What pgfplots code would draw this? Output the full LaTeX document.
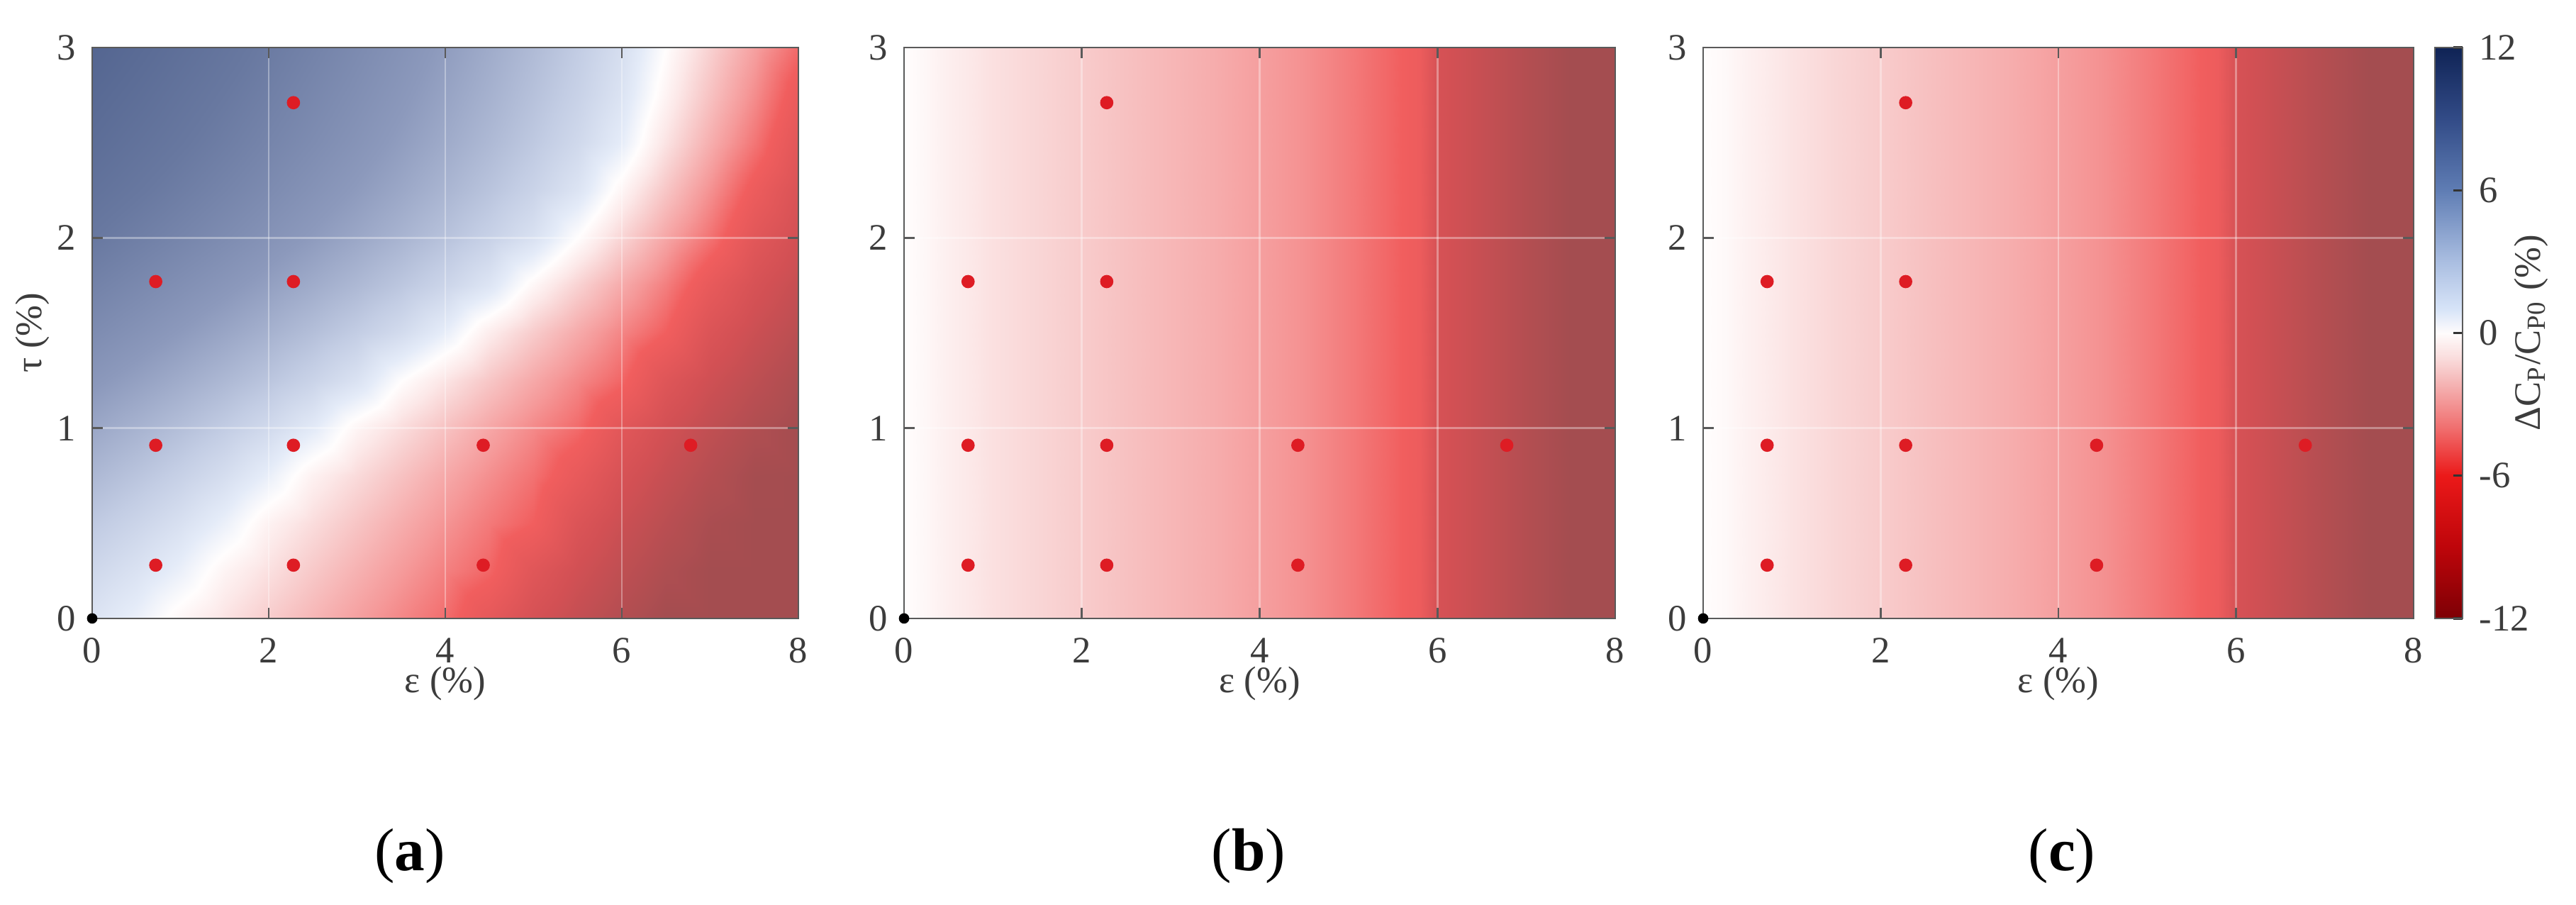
\documentclass[border=0pt]{standalone}
\usepackage{fontspec}
\setmainfont{Liberation Serif}
\usepackage{pgfplots}
\pgfplotsset{compat=1.18}
\usepackage{pgfplotstable}

\definecolor{dotred}{RGB}{222,28,36}
\definecolor{axgray}{RGB}{90,90,90}
\definecolor{txtgray}{RGB}{60,60,60}

% eps, tau, dCp/Cp0 (%) -- panel (a), one line per grid node
\pgfplotstableread{
e t v
0 0 1.5
0.5 0 0.75
1 0 -0.34
1.5 0 -1.2
2 0 -2.06
2.5 0 -2.91
3 0 -3.77
3.5 0 -4.63
4 0 -5.49
4.5 0 -7.12
5 0 -8.69
5.5 0 -9.92
6 0 -11.01
6.5 0 -12
7 0 -12
7.5 0 -12
8 0 -12
0 0.25 2.3
0.5 0.25 1.61
1 0.25 0.75
1.5 0.25 -0.44
2 0.25 -1.32
2.5 0.25 -2.21
3 0.25 -3.09
3.5 0.25 -3.97
4 0.25 -4.85
4.5 0.25 -5.74
5 0.25 -7.65
5.5 0.25 -9.08
6 0.25 -10.26
6.5 0.25 -11.32
7 0.25 -12
7.5 0.25 -12
8 0.25 -12
0 0.5 3.2
0.5 0.5 2.51
1 0.5 1.72
1.5 0.5 0.72
2 0.5 -0.55
2.5 0.5 -1.45
3 0.5 -2.36
3.5 0.5 -3.27
4 0.5 -4.18
4.5 0.5 -5.09
5 0.5 -6.0
5.5 0.5 -8.12
6 0.5 -9.46
6.5 0.5 -10.59
7 0.5 -11.61
7.5 0.5 -12
8 0.5 -12
0 0.75 4.2
0.5 0.75 3.51
1 0.75 2.75
1.5 0.75 1.89
2 0.75 0.79
2.5 0.75 -0.57
3 0.75 -1.52
3.5 0.75 -2.48
4 0.75 -3.43
4.5 0.75 -4.38
5 0.75 -5.33
5.5 0.75 -6.91
6 0.75 -8.56
6.5 0.75 -9.81
7 0.75 -10.91
7.5 0.75 -11.9
8 0.75 -12
0 1 5.2
0.5 1 4.53
1 1 3.82
1.5 1 3.04
2 1 2.16
2.5 1 1.09
3 1 -0.41
3.5 1 -1.45
4 1 -2.48
4.5 1 -3.52
5 1 -4.55
5.5 1 -5.59
6 1 -7.49
6.5 1 -8.96
7 1 -10.15
7.5 1 -11.21
8 1 -12
0 1.25 6.2
0.5 1.25 5.57
1 1.25 4.9
1.5 1.25 4.19
2 1.25 3.43
2.5 1.25 2.58
3 1.25 1.59
3.5 1.25 0
4 1.25 -1.15
4.5 1.25 -2.31
5 1.25 -3.46
5.5 1.25 -4.62
6 1.25 -5.77
6.5 1.25 -7.82
7 1.25 -9.21
7.5 1.25 -10.37
8 1.25 -11.42
0 1.5 7.2
0.5 1.5 6.59
1 1.5 5.95
1.5 1.5 5.28
2 1.5 4.58
2.5 1.5 3.82
3 1.5 3.0
3.5 1.5 2.06
4 1.5 0.86
4.5 1.5 -0.78
5 1.5 -2.09
5.5 1.5 -3.39
6 1.5 -4.7
6.5 1.5 -6.0
7 1.5 -8.12
7.5 1.5 -9.46
8 1.5 -10.59
0 1.75 8.1
0.5 1.75 7.51
1 1.75 6.9
1.5 1.75 6.27
2 1.75 5.61
2.5 1.75 4.92
3 1.75 4.18
3.5 1.75 3.37
4 1.75 2.48
4.5 1.75 1.4
5 1.75 -0.31
5.5 1.75 -1.85
6 1.75 -3.38
6.5 1.75 -4.92
7 1.75 -6.91
7.5 1.75 -8.56
8 1.75 -9.81
0 2 9.0
0.5 2 8.41
1 2 7.82
1.5 2 7.2
2 2 6.56
2.5 2 5.89
3 2 5.19
3.5 2 4.44
4 2 3.63
4.5 2 2.73
5 2 1.68
5.5 2 0
6 2 -1.76
6.5 2 -3.53
7 2 -5.29
7.5 2 -7.49
8 2 -8.96
0 2.25 9.7
0.5 2.25 9.12
1 2.25 8.52
1.5 2.25 7.9
2 2.25 7.26
2.5 2.25 6.59
3 2.25 5.9
3.5 2.25 5.17
4 2.25 4.38
4.5 2.25 3.54
5 2.25 2.61
5.5 2.25 1.48
6 2.25 -0.39
6.5 2.25 -2.32
7 2.25 -4.26
7.5 2.25 -6.43
8 2.25 -8.27
0 2.5 10.3
0.5 2.5 9.71
1 2.5 9.11
1.5 2.5 8.49
2 2.5 7.84
2.5 2.5 7.18
3 2.5 6.49
3.5 2.5 5.75
4 2.5 4.98
4.5 2.5 4.16
5 2.5 3.26
5.5 2.5 2.24
6 2.5 0.93
6.5 2.5 -1.2
7 2.5 -3.2
7.5 2.5 -5.2
8 2.5 -7.49
0 2.75 10.8
0.5 2.75 10.21
1 2.75 9.58
1.5 2.75 8.95
2 2.75 8.31
2.5 2.75 7.62
3 2.75 6.92
3.5 2.75 6.19
4 2.75 5.41
4.5 2.75 4.6
5 2.75 3.69
5.5 2.75 2.7
6 2.75 1.51
6.5 2.75 -0.47
7 2.75 -2.45
7.5 2.75 -4.42
8 2.75 -6.68
0 3 11.3
0.5 3 10.69
1 3 10.05
1.5 3 9.4
2 3 8.73
2.5 3 8.05
3 3 7.32
3.5 3 6.58
4 3 5.79
4.5 3 4.95
5 3 4.06
5.5 3 3.05
6 3 1.88
6.5 3 0
7 3 -1.88
7.5 3 -3.75
8 3 -5.63
}\tabA

% panel (b)
\pgfplotstableread{
e t v
0 0 0
0.25 0 -0.3
0.5 0 -0.7
1 0 -1.3
1.5 0 -1.7
2 0 -2.1
2.5 0 -2.5
3 0 -2.9
3.5 0 -3.3
4 0 -3.8
4.5 0 -4.3
5 0 -5.0
5.5 0 -5.8
5.8 0 -6.4
6 0 -8.6
6.5 0 -9.8
7 0 -11.0
7.5 0 -12
8 0 -12
0 3 0
0.25 3 -0.3
0.5 3 -0.7
1 3 -1.3
1.5 3 -1.7
2 3 -2.1
2.5 3 -2.5
3 3 -2.9
3.5 3 -3.3
4 3 -3.8
4.5 3 -4.3
5 3 -5.0
5.5 3 -5.8
5.8 3 -6.4
6 3 -8.6
6.5 3 -9.8
7 3 -11.0
7.5 3 -12
8 3 -12
}\tabB

% panel (c)
\pgfplotstableread{
e t v
0 0 0
0.25 0 -0.2
0.5 0 -0.6
1 0 -1.2
1.5 0 -1.7
2 0 -2.1
2.5 0 -2.5
3 0 -2.9
3.5 0 -3.3
4 0 -3.8
4.5 0 -4.3
5 0 -5.0
5.5 0 -5.8
5.8 0 -6.4
6 0 -8.6
6.5 0 -9.8
7 0 -11.0
7.5 0 -12
8 0 -12
0 3 0
0.25 3 -0.2
0.5 3 -0.6
1 3 -1.2
1.5 3 -1.7
2 3 -2.1
2.5 3 -2.5
3 3 -2.9
3.5 3 -3.3
4 3 -3.8
4.5 3 -4.3
5 3 -5.0
5.5 3 -5.8
5.8 3 -6.4
6 3 -8.6
6.5 3 -9.8
7 3 -11.0
7.5 3 -12
8 3 -12
}\tabC

\pgfplotsset{
  colormap={washed}{
    rgb255(0pt)=(164,77,80) rgb255(3pt)=(210,80,84) rgb255(6pt)=(241,94,94)
    rgb255(8pt)=(245,154,154) rgb255(10pt)=(248,206,206) rgb255(11pt)=(252,232,232)
    rgb255(12pt)=(255,253,253) rgb255(13pt)=(228,235,248) rgb255(15pt)=(195,205,228)
    rgb255(18pt)=(140,153,188) rgb255(21pt)=(104,120,160) rgb255(24pt)=(78,96,140)},
  colormap={full}{
    rgb255(0pt)=(125,0,5) rgb255(3pt)=(190,5,10) rgb255(6pt)=(235,25,25)
    rgb255(8pt)=(240,110,110) rgb255(10pt)=(245,185,185) rgb255(11pt)=(250,222,222)
    rgb255(12pt)=(255,252,252) rgb255(13pt)=(215,228,248) rgb255(15pt)=(170,190,225)
    rgb255(18pt)=(95,125,180) rgb255(21pt)=(50,75,135) rgb255(24pt)=(15,35,85)},
  panel/.style={
    scale only axis, width=#1, height=120.75pt,
    anchor=south west,
    xmin=0, xmax=8, ymin=0, ymax=3,
    xtick={0,2,4,6,8}, ytick={0,1,2,3},
    point meta min=-12, point meta max=12,
    colormap name=washed,
    axis on top,
    grid=major,
    grid style={white, opacity=0.35, line width=0.4pt},
    axis line style={axgray, line width=0.4pt},
    tick style={axgray, line width=0.4pt},
    tick align=inside, major tick length=2.2pt,
    /pgf/number format/assume math mode=true,
    ticklabel style={font=\fontsize{7.9}{9}\selectfont, text=txtgray},
    xticklabel style={anchor=center, yshift=-6.75pt},
    xlabel={ε (\%)},
    label style={font=\fontsize{7.9}{9}\selectfont, text=txtgray},
    xlabel style={at={(axis description cs:0.5,0)}, anchor=center, yshift=-13.8pt},
  },
  dots/.style={only marks, mark=*, mark size=1.2pt, mark options={draw=dotred, fill=dotred}},
  origin/.style={only marks, mark=*, mark size=0.9pt, mark options={draw=black, fill=black}},
}

\begin{document}
\begin{tikzpicture}
\useasboundingbox (0,0) rectangle (544.95pt,191.4pt);

% (a)
\begin{axis}[panel=149.4pt, at={(19.5pt,60.6pt)}]
\addplot[surf, shader=interp, mesh/cols=17, point meta=\thisrow{v}] table[x=e, y=t] {\tabA};
\addplot[dots] coordinates {(0.72,0.28)(0.72,0.91)(0.72,1.77)(2.28,0.28)(2.28,0.91)(2.28,1.77)(2.28,2.71)(4.43,0.28)(4.43,0.91)(6.78,0.91)};
\addplot[origin] coordinates {(0,0)};
\end{axis}

% (b)
\begin{axis}[panel=150.45pt, at={(191.25pt,60.6pt)}]
\addplot[surf, shader=interp, mesh/cols=19, point meta=\thisrow{v}] table[x=e, y=t] {\tabB};
\addplot[dots] coordinates {(0.72,0.28)(0.72,0.91)(0.72,1.77)(2.28,0.28)(2.28,0.91)(2.28,1.77)(2.28,2.71)(4.43,0.28)(4.43,0.91)(6.78,0.91)};
\addplot[origin] coordinates {(0,0)};
\end{axis}

% (c)
\begin{axis}[panel=150.3pt, at={(360.3pt,60.6pt)}]
\addplot[surf, shader=interp, mesh/cols=19, point meta=\thisrow{v}] table[x=e, y=t] {\tabC};
\addplot[dots] coordinates {(0.72,0.28)(0.72,0.91)(0.72,1.77)(2.28,0.28)(2.28,0.91)(2.28,1.77)(2.28,2.71)(4.43,0.28)(4.43,0.91)(6.78,0.91)};
\addplot[origin] coordinates {(0,0)};
\end{axis}

% colour bar
\begin{axis}[
  at={(515.1pt,60.6pt)}, anchor=south west,
  scale only axis, width=5.85pt, height=120.75pt,
  xmin=0, xmax=1, ymin=-12, ymax=12,
  xtick=\empty, ytick={-12,-6,0,6,12},
  ytick pos=right, yticklabel pos=right,
  tick align=inside, major tick length=2pt,
  tick style={black!80, line width=0.5pt},
  colormap name=full, point meta min=-12, point meta max=12,
  axis on top, axis line style={axgray, line width=0.4pt},
  /pgf/number format/assume math mode=true,
  ticklabel style={font=\fontsize{7.9}{9}\selectfont, text=txtgray},
]
\addplot[surf, shader=interp, mesh/cols=2, point meta=y] coordinates {(0,-12)(1,-12)(0,12)(1,12)};
\end{axis}

\node[rotate=90, font=\fontsize{7.9}{9}\selectfont, text=txtgray] at (6.9pt,121pt) {τ (\%)};
\node[rotate=90, font=\fontsize{7.9}{9}\selectfont, text=txtgray] at (535.5pt,121pt) {ΔC\textsubscript{P}/C\textsubscript{P0} (\%)};

\node[font=\fontsize{12.8}{14}\selectfont] at (86.7pt,10.35pt) {(\textbf{a})};
\node[font=\fontsize{12.8}{14}\selectfont] at (264.15pt,10.35pt) {(\textbf{b})};
\node[font=\fontsize{12.8}{14}\selectfont] at (436.2pt,10.35pt) {(\textbf{c})};
\end{tikzpicture}
\end{document}
